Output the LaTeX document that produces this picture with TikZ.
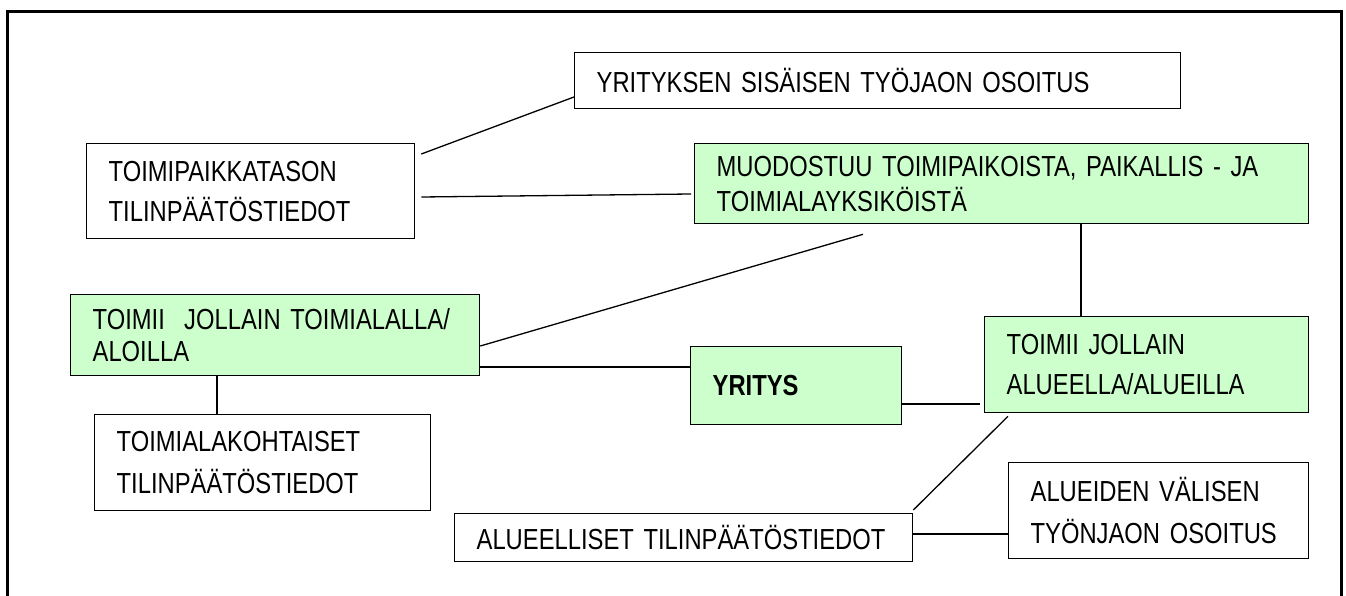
\documentclass[tikz,border=0pt]{standalone}
\usepackage{fontspec}
\setmainfont{Liberation Sans}[FakeStretch=0.82]
\usetikzlibrary{calc}
\definecolor{boxgreen}{HTML}{CCFFCC}
\tikzset{
  box/.style={draw=black, line width=1.3pt, anchor=north west, align=left,
    inner xsep=22pt, inner ysep=0pt, font=\fontsize{29}{40}\selectfont},
  greenbox/.style={box, fill=boxgreen},
  conn/.style={draw=black, line width=1.3pt},
  frame/.style={draw=black, line width=3pt}
}
\begin{document}
\begin{tikzpicture}[x=1pt,y=-1pt]
\useasboundingbox (0,0) rectangle (1346,596);
\draw[frame] (7,610) -- (7,12) -- (1341,12) -- (1341,610);

\node[box, text width=562pt, minimum width=606pt, minimum height=56pt] (yk) at (574,52)
  {YRITYKSEN SISÄISEN TYÖJAON OSOITUS};
\node[box, text width=284pt, minimum width=328pt, minimum height=95pt] (tp) at (86,143)
  {TOIMIPAIKKATASON\\TILINPÄÄTÖSTIEDOT};
\node[greenbox, text width=570pt, minimum width=614pt, minimum height=80pt,
  font=\fontsize{29}{35}\selectfont] (mu) at (694,143)
  {MUODOSTUU TOIMIPAIKOISTA, PAIKALLIS - JA\\TOIMIALAYKSIKÖISTÄ};
\node[greenbox, text width=365pt, minimum width=409pt, minimum height=81pt,
  font=\fontsize{29}{32}\selectfont] (ta) at (70,294)
  {TOIMII\ \ JOLLAIN TOIMIALALLA/\\ALOILLA};
\node[greenbox, text width=167pt, minimum width=211pt, minimum height=78pt,
  font=\fontsize{29}{40}\selectfont\bfseries] (yr) at (690,346)
  {YRITYS};
\node[greenbox, text width=280pt, minimum width=324pt, minimum height=96pt] (al) at (984,316)
  {TOIMII JOLLAIN\\ALUEELLA/ALUEILLA};
\node[box, text width=292pt, minimum width=336pt, minimum height=96pt,
  font=\fontsize{29}{42}\selectfont] (tk) at (94,414)
  {TOIMIALAKOHTAISET\\TILINPÄÄTÖSTIEDOT};
\node[box, text width=414pt, minimum width=458pt, minimum height=48pt] (ae) at (454,513)
  {ALUEELLISET TILINPÄÄTÖSTIEDOT};
\node[box, text width=256pt, minimum width=300pt, minimum height=96pt,
  font=\fontsize{29}{42}\selectfont] (av) at (1008,462)
  {ALUEIDEN VÄLISEN\\TYÖNJAON OSOITUS};

\draw[conn] ($(tp.north east)+(6,11)$) -- ($(yk.north west)+(0,45)$);
\draw[conn] ($(tp.north east)+(6,54)$) -- ($(mu.north west)+(-3,51)$);
\draw[conn] ($(mu.south west)+(169,10)$) -- ($(ta.north east)+(0,52)$);
\draw[conn] ($(mu.south west)+(387,0)$) -- ($(al.north west)+(97,0)$);
\draw[conn] ($(ta.north east)+(0,73)$) -- ($(yr.north west)+(0,21)$);
\draw[conn] ($(yr.north east)+(0,58)$) -- ($(al.north west)+(-4,88)$);
\draw[conn] ($(ta.south west)+(147,0)$) -- ($(tk.north west)+(123,0)$);
\draw[conn] ($(al.south west)+(24,3)$) -- ($(ae.north east)+(0,-3)$);
\draw[conn] ($(ae.north east)+(0,21)$) -- ($(av.north west)+(0,72)$);
\end{tikzpicture}
\end{document}
